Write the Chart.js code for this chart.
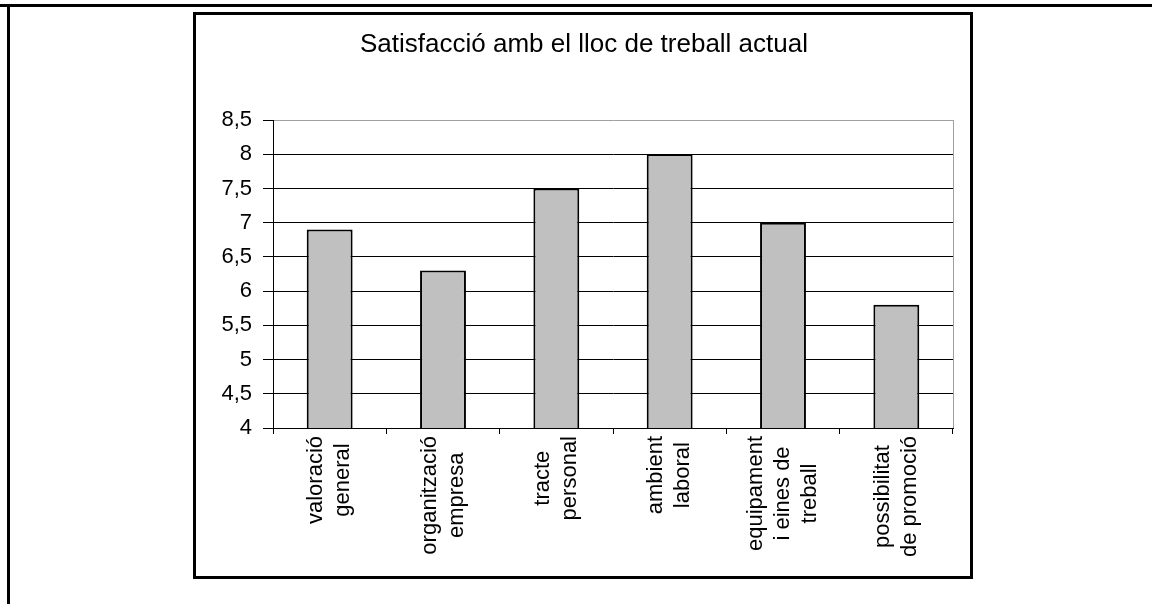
<!DOCTYPE html>
<html>
<head>
<meta charset="utf-8">
<script src="https://cdn.jsdelivr.net/npm/chart.js@4.4.1/dist/chart.umd.min.js"></script>
<style>
  html, body { margin: 0; padding: 0; background: #fff; }
  #wrap { position: relative; width: 1152px; height: 604px; overflow: hidden; }
  #outerTop { position: absolute; left: 0; top: 4px; width: 1152px; height: 3px; background: #000; }
  #outerLeft { position: absolute; left: 7px; top: 4px; width: 3px; height: 600px; background: #000; }
  #box { position: absolute; left: 193px; top: 12px; width: 780px; height: 567px; border: 3px solid #000; box-sizing: border-box; }
  canvas { position: absolute; left: 0; top: 0; }
</style>
</head>
<body>
<div id="wrap">
  <div id="outerTop"></div>
  <div id="outerLeft"></div>
  <div id="box"></div>
  <canvas id="chart" width="1152" height="604"></canvas>
</div>
<script>
const chartTitle = 'Satisfacció amb el lloc de treball actual';
const categories = [
  ['valoració', 'general'],
  ['organització', 'empresa'],
  ['tracte', 'personal'],
  ['ambient', 'laboral'],
  ['equipament', 'i eines de', 'treball'],
  ['possibilitat', 'de promoció']
];
const scores = [6.9, 6.3, 7.5, 8.0, 7.0, 5.8];
const yMin = 4;
const yMax = 8.5;
const yStep = 0.5;

const FONT = '"Liberation Sans", Arial, sans-serif';

// titol i etiquetes rotades de l'eix x
const customText = {
  id: 'customText',
  beforeDatasetsDraw(chart) {
    const { ctx, chartArea } = chart;
    // vora dreta grisa de l'àrea del gràfic
    ctx.save();
    ctx.strokeStyle = '#a0a0a0';
    ctx.lineWidth = 1;
    ctx.beginPath();
    ctx.moveTo(chartArea.right + 0.5, chartArea.top);
    ctx.lineTo(chartArea.right + 0.5, chartArea.bottom);
    ctx.stroke();
    ctx.restore();
  },
  afterDraw(chart) {
    const { ctx, chartArea } = chart;
    const xs = chart.scales.x;
    ctx.save();
    ctx.fillStyle = '#000';
    ctx.font = '26px ' + FONT;
    ctx.textAlign = 'center';
    ctx.textBaseline = 'middle';
    ctx.fillText(chartTitle, 584, 45);

    ctx.font = '22px ' + FONT;
    const lineH = 27;
    categories.forEach((lines, i) => {
      const cx = xs.getPixelForValue(i);
      const maxW = Math.max(...lines.map(l => ctx.measureText(l).width));
      const cy = chartArea.bottom + 8 + maxW / 2;
      lines.forEach((line, j) => {
        ctx.save();
        ctx.translate(cx + (j - (lines.length - 1) / 2) * lineH, cy);
        ctx.rotate(-Math.PI / 2);
        ctx.fillText(line, 0, 0);
        ctx.restore();
      });
    });
    ctx.restore();
  }
};

new Chart(document.getElementById('chart'), {
  type: 'bar',
  data: {
    labels: categories.map(c => c.join(' ')),
    datasets: [{
      data: scores,
      backgroundColor: '#c0c0c0',
      borderColor: '#000',
      borderWidth: 2,
      categoryPercentage: 1,
      barPercentage: 0.405
    }]
  },
  options: {
    responsive: false,
    animation: false,
    layout: { padding: { left: 194, right: 199, top: 120, bottom: 0 } },
    plugins: {
      legend: { display: false },
      title: { display: false },
      tooltip: { enabled: false }
    },
    scales: {
      x: {
        grid: {
          drawOnChartArea: false,
          drawTicks: true,
          tickLength: 6,
          color: '#000',
          offset: true
        },
        border: { color: '#000', width: 1 },
        ticks: { display: false },
        afterFit: s => { s.height = 176; }
      },
      y: {
        min: yMin,
        max: yMax,
        grid: {
          color: ctx => (ctx.tick && ctx.tick.value === yMax) ? '#a0a0a0' : '#000',
          tickColor: '#000',
          tickLength: 10
        },
        border: { color: '#000', width: 1 },
        ticks: {
          stepSize: yStep,
          padding: 11,
          color: '#000',
          font: { family: FONT, size: 22 },
          callback: v => String(v).replace('.', ',')
        },
        afterFit: s => { s.width = 79; }
      }
    }
  },
  plugins: [customText]
});
</script>
</body>
</html>
